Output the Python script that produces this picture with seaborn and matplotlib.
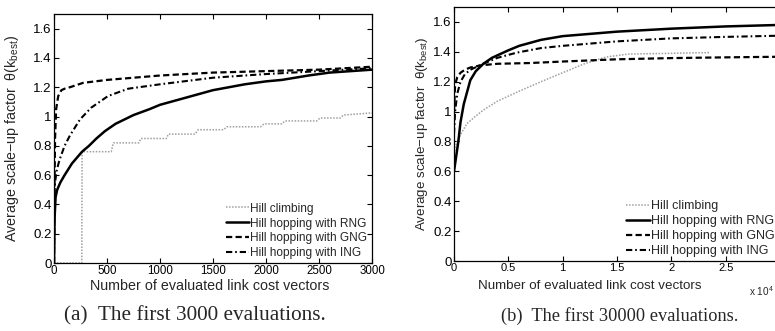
import matplotlib
matplotlib.use("Agg")
import matplotlib.pyplot as plt
import seaborn as sns
import pandas as pd
from matplotlib.ticker import FuncFormatter, MultipleLocator

# ---------------- data ----------------
labels = ["Hill climbing", "Hill hopping with RNG", "Hill hopping with GNG", "Hill hopping with ING"]

# (a) first 3000 evaluations
a_hc_x = [0, 262, 265, 540, 560, 800, 820, 1060, 1080, 1330, 1360, 1600, 1630, 1950, 1980, 2150, 2180, 2480, 2510, 2700, 2730, 3000]
a_hc_y = [0, 0, 0.76, 0.76, 0.82, 0.82, 0.85, 0.85, 0.88, 0.88, 0.91, 0.91, 0.93, 0.93, 0.95, 0.95, 0.97, 0.97, 0.99, 0.99, 1.01, 1.025]
a_rng_x = [0, 5, 15, 30, 60, 100, 170, 265, 330, 400, 480, 580, 750, 900, 1000, 1200, 1500, 1800, 2000, 2150, 2400, 2600, 2800, 3000]
a_rng_y = [0, 0.3, 0.45, 0.5, 0.55, 0.6, 0.68, 0.76, 0.8, 0.85, 0.9, 0.95, 1.01, 1.05, 1.08, 1.12, 1.18, 1.22, 1.24, 1.25, 1.28, 1.30, 1.31, 1.32]
a_gng_x = [0, 5, 10, 20, 40, 70, 100, 150, 275, 500, 750, 1000, 1500, 2000, 2500, 3000]
a_gng_y = [0, 0.55, 0.85, 1.05, 1.14, 1.18, 1.19, 1.2, 1.23, 1.25, 1.265, 1.28, 1.30, 1.31, 1.32, 1.34]
a_ing_x = [0, 3, 10, 25, 50, 100, 150, 245, 350, 510, 700, 1000, 1500, 2000, 2500, 3000]
a_ing_y = [0, 0.45, 0.55, 0.63, 0.7, 0.8, 0.87, 0.98, 1.06, 1.14, 1.19, 1.22, 1.265, 1.29, 1.31, 1.33]

# (b) first 30000 evaluations
b_hc_x = [0, 20, 100, 300, 700, 1200, 2000, 2700, 4000, 5800, 8000, 10000, 12000, 14000, 16000, 20000, 23500]
b_hc_y = [0, 0.72, 0.76, 0.8, 0.86, 0.92, 0.97, 1.01, 1.07, 1.13, 1.2, 1.26, 1.32, 1.365, 1.385, 1.39, 1.395]
b_rng_x = [0, 200, 400, 600, 900, 1500, 2000, 2700, 3500, 5000, 6000, 8000, 10000, 15000, 20000, 25000, 30000]
b_rng_y = [0.6, 0.7, 0.8, 0.93, 1.05, 1.21, 1.27, 1.32, 1.36, 1.41, 1.44, 1.48, 1.505, 1.535, 1.555, 1.57, 1.58]
b_gng_x = [0, 100, 300, 600, 1000, 1500, 2500, 4000, 7000, 10000, 15000, 20000, 25000, 30000]
b_gng_y = [1.0, 1.18, 1.23, 1.26, 1.28, 1.295, 1.31, 1.32, 1.325, 1.335, 1.35, 1.358, 1.363, 1.367]
b_ing_x = [0, 100, 300, 600, 1000, 1500, 2700, 4000, 5800, 8000, 10000, 15000, 20000, 25000, 30000]
b_ing_y = [0.85, 1.0, 1.12, 1.2, 1.25, 1.28, 1.32, 1.36, 1.395, 1.425, 1.44, 1.47, 1.49, 1.5, 1.508]

captions = ["(a)  The first 3000 evaluations.", "(b)  The first 30000 evaluations."]
xlabel = "Number of evaluated link cost vectors"
ylabel = "Average scale\u2212up factor  \u03b8(k$_{\\mathrm{best}}$)"

# ---------------- style ----------------
sns.set_style("ticks")
plt.rcParams["font.family"] = ["Liberation Sans", "DejaVu Sans"]
plt.rcParams["mathtext.fontset"] = "custom"
plt.rcParams["mathtext.rm"] = "Liberation Sans"
plt.rcParams["mathtext.it"] = "Liberation Sans:italic"
plt.rcParams["xtick.direction"] = "in"
plt.rcParams["ytick.direction"] = "in"

styles = [
    dict(color="#a0a0a0", linestyle=(0, (1, 1)), linewidth=1.1),
    dict(color="black", linestyle="-", linewidth=1.8),
    dict(color="black", linestyle=(0, (2.8, 1.5)), linewidth=1.6),
    dict(color="black", linestyle=(0, (3.0, 1.4, 0.8, 1.4)), linewidth=1.5),
]

fig = plt.figure(figsize=(7.75, 3.31), dpi=100)
W, H = 775, 331

def add_ax(x0, x1, ytop, ybot):
    return fig.add_axes([x0 / W, 1 - ybot / H, (x1 - x0) / W, (ybot - ytop) / H])

ax_a = add_ax(54, 372, 14, 263)
ax_b = add_ax(454, 780, 7, 261)

series_a = [(a_hc_x, a_hc_y), (a_rng_x, a_rng_y), (a_gng_x, a_gng_y), (a_ing_x, a_ing_y)]
series_b = [(b_hc_x, b_hc_y), (b_rng_x, b_rng_y), (b_gng_x, b_gng_y), (b_ing_x, b_ing_y)]

panel_cfg = [
    dict(ax=ax_a, series=series_a, xmax=3000, xstep=500,
         fmt=lambda v, p: f"{v:g}", xts=8.3, yts=9.5, lab=10.3, legfs=8.6),
    dict(ax=ax_b, series=series_b, xmax=30000, xstep=5000,
         fmt=lambda v, p: (f"{v / 1e4:g}" if v < 29999 else ""), xts=8.0, yts=9.5, lab=9.6, legfs=9.0),
]

for cfg in panel_cfg:
    ax = cfg["ax"]
    for (xs, ys), lab, st in zip(cfg["series"], labels, styles):
        df = pd.DataFrame({"x": xs, "y": ys})
        sns.lineplot(data=df, x="x", y="y", ax=ax, label=lab, sort=False,
                     estimator=None, **st)
    ax.set_xlim(0, cfg["xmax"])
    ax.set_ylim(0, 1.7)
    ax.xaxis.set_major_locator(MultipleLocator(cfg["xstep"]))
    ax.yaxis.set_major_locator(MultipleLocator(0.2))
    ax.xaxis.set_major_formatter(FuncFormatter(cfg["fmt"]))
    ax.yaxis.set_major_formatter(FuncFormatter(lambda v, p: f"{v:g}"))
    ax.tick_params(axis="both", which="both", direction="in", top=True, right=True,
                   length=3.5, width=0.8, pad=1.5, colors="black")
    ax.tick_params(axis="x", labelsize=cfg["xts"])
    ax.tick_params(axis="y", labelsize=cfg["yts"])
    for sp in ax.spines.values():
        sp.set_linewidth(0.9)
        sp.set_color("black")
    ax.set_xlabel(xlabel, fontsize=cfg["lab"], labelpad=0)
    ax.set_ylabel(ylabel, fontsize=cfg["lab"], labelpad=2)
    ax.legend(loc="lower right", bbox_to_anchor=(0.985, 0.015), frameon=False,
              fontsize=cfg["legfs"], handlelength=1.95, handletextpad=0.1,
              labelspacing=0.24, borderaxespad=0, borderpad=0)

ax_a.xaxis.set_label_coords((210 - 54) / 318, -0.065)
ax_b.xaxis.set_label_coords((590 - 454) / 326, -0.075)
ax_a.yaxis.set_label_coords(-(54 - 21) / 318, 0.5)
ax_b.yaxis.set_label_coords(-(454 - 430) / 326, 0.5)

fig.text(774 / W, 1 - 291 / H, "x 10$^{4}$", fontsize=7.2, ha="right", va="center")

serif = ["Liberation Serif", "DejaVu Serif"]
fig.text(195 / W, 1 - 316 / H, captions[0], family=serif, fontsize=15.3, ha="center", va="center")
fig.text(620 / W, 1 - 316 / H, captions[1], family=serif, fontsize=13.2, ha="center", va="center")

fig.savefig("out.png", dpi=100)
